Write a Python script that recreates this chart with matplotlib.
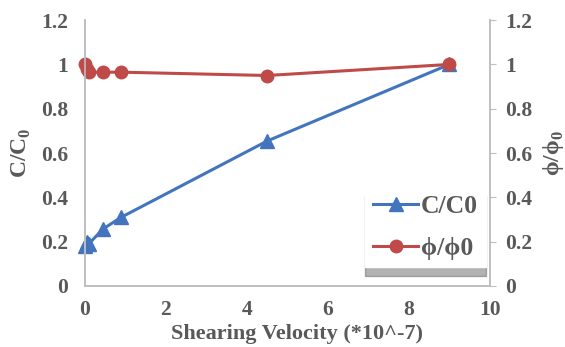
import matplotlib.pyplot as plt

# data
velocity = [0, 0.05, 0.1, 0.45, 0.9, 4.5, 9]
c_ratio = [0.18, 0.20, 0.19, 0.257, 0.31, 0.654, 1.0]
phi_ratio = [1.0, 0.98, 0.965, 0.965, 0.965, 0.95, 1.0]

blue = '#4275BE'
red = '#BE4B48'
grey = '#595959'
spine = '#BFBFBF'

plt.rcParams['font.family'] = ['Liberation Serif', 'DejaVu Serif']
plt.rcParams['font.weight'] = 'bold'
plt.rcParams['mathtext.fontset'] = 'custom'
plt.rcParams['mathtext.bf'] = 'Liberation Serif:bold'
plt.rcParams['mathtext.rm'] = 'Liberation Serif:bold'

fig = plt.figure(figsize=(5.65, 3.47), dpi=100)
ax = fig.add_axes([0.150, 0.176, 0.717, 0.766])
ax2 = ax.twinx()

l1, = ax.plot(velocity, c_ratio, color=blue, lw=2.2, marker='^', ms=10, label='C/C0', clip_on=False)
l2, = ax2.plot(velocity, phi_ratio, color=red, lw=2.2, marker='o', ms=9, label='ϕ/ϕ0', clip_on=False)

for a in (ax, ax2):
    a.set_ylim(0, 1.2)
    a.set_yticks([0, 0.2, 0.4, 0.6, 0.8, 1, 1.2])
    a.set_yticklabels(['0', '0.2', '0.4', '0.6', '0.8', '1', '1.2'])
    a.spines['top'].set_visible(False)
    for s in a.spines.values():
        s.set_color(spine)
        s.set_linewidth(1.2)
    a.tick_params(labelsize=15.5, colors=grey, length=0, pad=12)

ax2.tick_params(axis='y', length=4, color=spine, direction='out', pad=7)
ax.set_xlim(0, 10)
ax.set_xticks([0, 2, 4, 6, 8, 10])
ax.set_xticklabels(['0', '2', '4', '6', '8', '10'])
ax.tick_params(axis='x', pad=10)

ax.set_xlabel('Shearing Velocity (*10^-7)', fontsize=16, color=grey, fontweight='bold')
ax.xaxis.set_label_coords(0.523, -0.145)
ax.set_ylabel('C/C$_\\mathbf{0}$', fontsize=17, color=grey, fontweight='bold')
ax.yaxis.set_label_coords(-0.128, 0.5)
ax2.set_ylabel('ϕ/ϕ$_\\mathbf{0}$', fontsize=17, color=grey, fontweight='bold', labelpad=6)

leg = ax2.legend(handles=[l1, l2], loc='lower right', bbox_to_anchor=(0.99, 0.07),
                 fontsize=18.5, frameon=True, fancybox=False,
                 shadow={'ox': 0, 'oy': -6, 'color': '0.4', 'alpha': 0.5},
                 handlelength=1.75, borderpad=0.3, labelspacing=0.72, handletextpad=0.12,
                 borderaxespad=0)
leg.get_frame().set_edgecolor('white')
leg.get_frame().set_alpha(1)
for t in leg.get_texts():
    t.set_color(grey)

fig.savefig('out.png', dpi=100)
